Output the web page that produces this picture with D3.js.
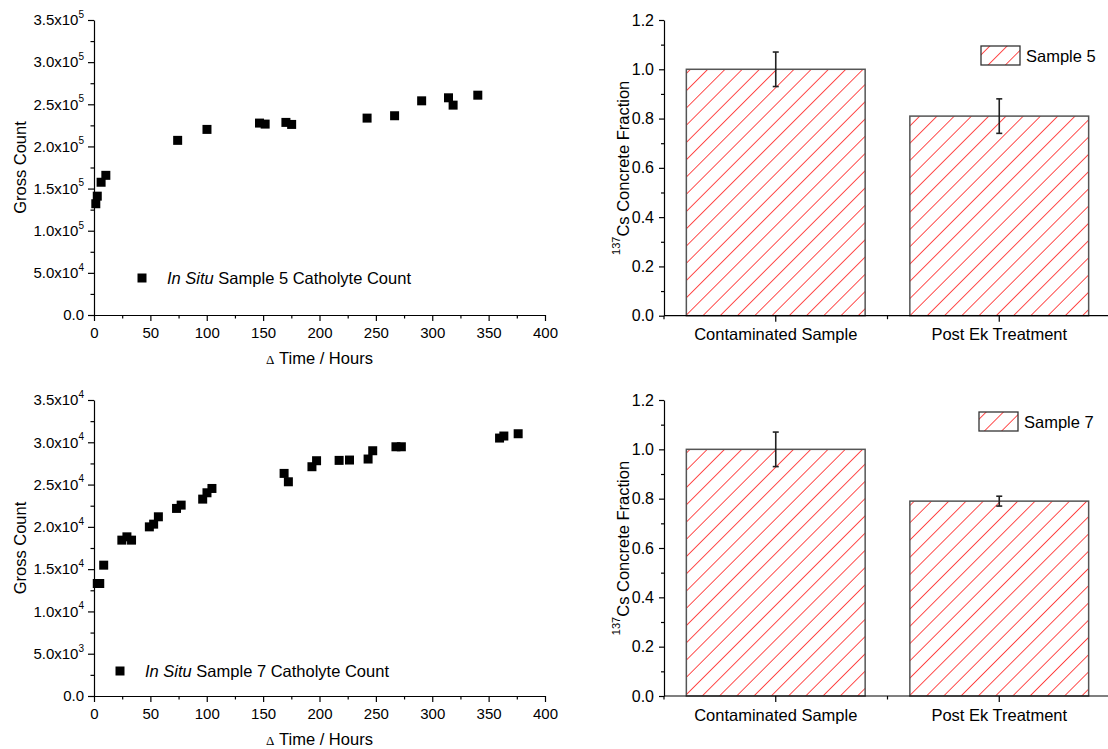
<!DOCTYPE html>
<html><head><meta charset="utf-8">
<script src="https://cdn.jsdelivr.net/npm/d3@7"></script>
<style>
html,body{margin:0;padding:0;background:#fff;}
svg{display:block;font-family:"Liberation Sans",Arial,Helvetica,sans-serif;}
</style></head>
<body>
<svg id="c" width="1108" height="749"></svg>
<script>
// ---- data ----
const hours5 = [1.6, 2.9, 6.3, 10.5, 74.2, 100.2, 146.8, 151.8, 170.2, 175.3, 242.2, 266.6, 290.6, 314.4, 318.5, 340.4];
const counts5 = [132000, 141000, 157500, 165700, 207200, 220200, 227700, 226500, 228500, 226100, 233600, 236400, 254100, 257700, 249000, 260800];

const hours7 = [2.9, 5.1, 8.6, 24.7, 29.2, 33.3, 49.1, 52.9, 57.1, 73.2, 77.3, 96.4, 100.2, 104.6, 168.6, 172.4, 193.3, 197.4, 217.4, 226.6, 243.1, 247.2, 267.8, 272.6, 359.7, 363.5, 376.2];
const counts7 = [13300, 13300, 15470, 18430, 18820, 18430, 20000, 20320, 21190, 22180, 22570, 23280, 24030, 24540, 26320, 25330, 27110, 27820, 27860, 27900, 28020, 29000, 29470, 29470, 30500, 30740, 31010];

const xTicks = [0, 50, 100, 150, 200, 250, 300, 350, 400];
const yTicks5 = [0, 5e4, 1e5, 1.5e5, 2e5, 2.5e5, 3e5, 3.5e5];
const yTicks7 = [0, 5e3, 1e4, 1.5e4, 2e4, 2.5e4, 3e4, 3.5e4];

const categories = ["Contaminated Sample", "Post Ek Treatment"];
const fraction5 = [1.0, 0.81];
const error5 = [0.07, 0.07];
const fraction7 = [1.0, 0.79];
const error7 = [0.07, 0.02];
const fracTicks = [0, 0.2, 0.4, 0.6, 0.8, 1.0, 1.2];

const svg = d3.select("#c");
const FONT = "Liberation Sans, Arial, sans-serif";

// hatch pattern
const defs = svg.append("defs");
const pat = defs.append("pattern").attr("id", "hatch")
  .attr("patternUnits", "userSpaceOnUse")
  .attr("width", 12.2).attr("height", 12.2)
  .attr("patternTransform", "rotate(45)");
pat.append("rect").attr("width", 12.2).attr("height", 12.2).attr("fill", "#fff");
pat.append("line").attr("x1", 0).attr("y1", 0).attr("x2", 0).attr("y2", 12.2)
  .attr("stroke", "#ff0000").attr("stroke-width", 1.4);

function sci(v) {
  if (v === 0) return ["0.0", null];
  const e = Math.floor(Math.log10(v) + 1e-9);
  const m = v / Math.pow(10, e);
  return [m.toFixed(1) + "x10", String(e)];
}

function styleAxis(g) {
  g.selectAll("path,line").attr("stroke", "#000").attr("stroke-width", 1.2);
}

function scatterPanel(top, bottom, hours, counts, yTicks, yMax, legendX, legendY, sampleNo) {
  const x = d3.scaleLinear().domain([0, 400]).range([94, 545]);
  const y = d3.scaleLinear().domain([0, yMax]).range([bottom, top]);
  const g = svg.append("g");

  // minor ticks
  const minorX = d3.range(25, 400, 50);
  const minorY = yTicks.slice(0, -1).map((t, i) => (t + yTicks[i + 1]) / 2);
  g.append("g").attr("transform", `translate(0,${bottom})`)
    .call(d3.axisBottom(x).tickValues(minorX).tickSize(3.5).tickFormat("").tickSizeOuter(0))
    .call(styleAxis).call(a => a.select(".domain").remove());
  g.append("g").attr("transform", `translate(94,0)`)
    .call(d3.axisLeft(y).tickValues(minorY).tickSize(3.5).tickFormat("").tickSizeOuter(0))
    .call(styleAxis).call(a => a.select(".domain").remove());

  const xa = g.append("g").attr("transform", `translate(0,${bottom})`)
    .call(d3.axisBottom(x).tickValues(xTicks).tickSize(6).tickPadding(6).tickSizeOuter(0))
    .call(styleAxis);
  xa.selectAll("text").attr("font-size", 15).attr("font-family", FONT).attr("fill", "#000");

  const ya = g.append("g").attr("transform", `translate(94,0)`)
    .call(d3.axisLeft(y).tickValues(yTicks).tickSize(6).tickPadding(4).tickSizeOuter(0))
    .call(styleAxis);
  ya.selectAll("text").attr("font-size", 15).attr("font-family", FONT).attr("fill", "#000")
    .each(function (d) {
      const [m, e] = sci(d);
      const t = d3.select(this).text(null);
      t.append("tspan").text(m);
      if (e !== null) t.append("tspan").attr("font-size", 10).attr("dy", "-0.75em").text(e);
    });

  // points
  const sym = d3.symbol(d3.symbolSquare, 81);
  g.append("g").selectAll("path").data(hours.map((h, i) => [h, counts[i]])).join("path")
    .attr("d", sym)
    .attr("transform", d => `translate(${x(d[0])},${y(d[1])})`)
    .attr("fill", "#000");

  // legend
  g.append("path").attr("d", sym).attr("transform", `translate(${legendX},${legendY})`).attr("fill", "#000");
  const lt = g.append("text").attr("x", legendX + 25).attr("y", legendY + 6)
    .attr("font-size", 16.5).attr("font-family", FONT);
  lt.append("tspan").attr("font-style", "italic").text("In Situ");
  lt.append("tspan").text(` Sample ${sampleNo} Catholyte Count`);

  // titles
  const xt = g.append("text").attr("x", 319.5).attr("y", bottom + 49)
    .attr("text-anchor", "middle").attr("font-size", 16.5).attr("font-family", FONT);
  xt.append("tspan").attr("font-family", "Liberation Serif, serif").attr("font-size", 13).text("\u0394");
  xt.append("tspan").text(" Time / Hours");
  g.append("text").attr("transform", `translate(26,${(top + bottom) / 2}) rotate(-90)`)
    .attr("text-anchor", "middle").attr("font-size", 16.5).attr("font-family", FONT)
    .text("Gross Count");
}

function barPanel(top, bottom, values, errors, sampleNo, legX, legY) {
  const x = d3.scaleBand().domain(categories).range([664, 1111]).paddingInner(0.2).paddingOuter(0.1);
  const y = d3.scaleLinear().domain([0, 1.2]).range([bottom, top]);
  const g = svg.append("g");

  // bars
  g.append("g").selectAll("rect").data(categories).join("rect")
    .attr("x", d => x(d)).attr("width", x.bandwidth())
    .attr("y", (d, i) => y(values[i])).attr("height", (d, i) => y(0) - y(values[i]))
    .attr("fill", "url(#hatch)").attr("stroke", "#555").attr("stroke-width", 1.5);

  // error bars
  const eg = g.append("g").attr("stroke", "#222").attr("stroke-width", 1.6);
  categories.forEach((c, i) => {
    const cx = x(c) + x.bandwidth() / 2;
    const y1 = y(values[i] + errors[i]), y2 = y(values[i] - errors[i]);
    eg.append("line").attr("x1", cx).attr("x2", cx).attr("y1", y1).attr("y2", y2);
    eg.append("line").attr("x1", cx - 3).attr("x2", cx + 3).attr("y1", y1).attr("y2", y1);
    eg.append("line").attr("x1", cx - 3).attr("x2", cx + 3).attr("y1", y2).attr("y2", y2);
  });

  // minor ticks
  const step = x.step();
  const edges = [664, 664 + step, 664 + 2 * step];
  const ex = g.append("g").attr("stroke", "#000").attr("stroke-width", 1.2);
  edges.forEach(e => ex.append("line").attr("x1", e).attr("x2", e).attr("y1", bottom).attr("y2", bottom + 3.5));
  const minorY = d3.range(0.1, 1.2, 0.2);
  g.append("g").attr("transform", `translate(664,0)`)
    .call(d3.axisLeft(y).tickValues(minorY).tickSize(3).tickFormat("").tickSizeOuter(0))
    .call(styleAxis).call(a => a.select(".domain").remove());

  const xa = g.append("g").attr("transform", `translate(0,${bottom})`)
    .call(d3.axisBottom(x).tickSize(6).tickPadding(7).tickSizeOuter(0))
    .call(styleAxis);
  xa.select(".domain").attr("d", `M664,0H1108`);
  xa.selectAll("text").attr("font-size", 16.5).attr("font-family", FONT).attr("fill", "#000");

  const ya = g.append("g").attr("transform", `translate(664,0)`)
    .call(d3.axisLeft(y).tickValues(fracTicks).tickSize(5).tickPadding(5).tickFormat(d3.format(".1f")).tickSizeOuter(0))
    .call(styleAxis);
  ya.selectAll("text").attr("font-size", 16).attr("font-family", FONT).attr("fill", "#000");

  // legend
  g.append("rect").attr("x", legX).attr("y", legY).attr("width", 39).attr("height", 19)
    .attr("fill", "url(#hatch)").attr("stroke", "#333").attr("stroke-width", 1.3);
  g.append("text").attr("x", legX + 45).attr("y", legY + 16)
    .attr("font-size", 16.5).attr("font-family", FONT).text(`Sample ${sampleNo}`);

  // y title
  const t = g.append("text").attr("transform", `translate(626,${(top + bottom) / 2}) rotate(-90)`)
    .attr("text-anchor", "middle").attr("font-size", 16.5).attr("font-family", FONT);
  t.append("tspan").attr("font-size", 11).attr("dy", "-0.55em").text("137");
  t.append("tspan").attr("dy", "0.55em").text("Cs Concrete Fraction");
}

scatterPanel(20, 315, hours5, counts5, yTicks5, 3.5e5, 142, 278, 5);
scatterPanel(400, 696, hours7, counts7, yTicks7, 3.5e4, 120, 671, 7);
barPanel(20, 315.7, fraction5, error5, 5, 981, 46);
barPanel(400, 696, fraction7, error7, 7, 979, 412);
</script>
</body></html>
